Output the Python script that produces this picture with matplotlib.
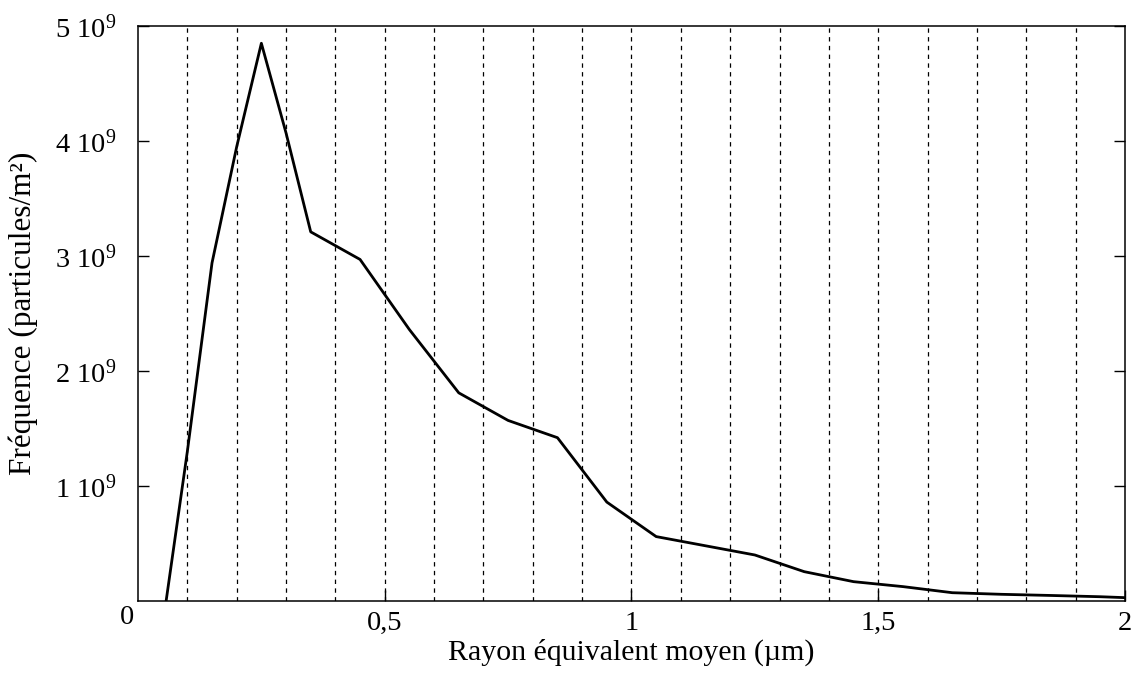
import matplotlib.pyplot as plt
from matplotlib.ticker import FixedLocator

plt.rcParams['font.family'] = ['Liberation Serif', 'DejaVu Serif']
plt.rcParams['mathtext.fontset'] = 'custom'
plt.rcParams['mathtext.rm'] = 'Liberation Serif'
plt.rcParams['mathtext.it'] = 'Liberation Serif:italic'

# Particle size distribution (mean equivalent radius in um, frequency per m2)
rayon = [0.057, 0.10, 0.15, 0.20, 0.25, 0.30, 0.35, 0.45, 0.55, 0.65, 0.75,
         0.85, 0.95, 1.05, 1.15, 1.25, 1.35, 1.45, 1.55, 1.65, 1.75, 1.85,
         1.95, 2.00]
frequence = [0.0, 1.30e9, 2.94e9, 3.95e9, 4.85e9, 4.07e9, 3.21e9, 2.97e9,
             2.36e9, 1.81e9, 1.57e9, 1.42e9, 0.86e9, 0.56e9, 0.48e9, 0.40e9,
             0.255e9, 0.168e9, 0.125e9, 0.072e9, 0.058e9, 0.048e9, 0.037e9,
             0.029e9]

grid_x = [round(0.1 * i, 1) for i in range(1, 20)]
xticks = [0.5, 1.0, 1.5, 2.0]
xtick_labels = ['0,5', '1', '1,5', '2']
yticks = [1e9, 2e9, 3e9, 4e9, 5e9]
ytick_labels = [r'%d $10^{9}$' % v for v in range(1, 6)]

fig = plt.figure(figsize=(11.32, 6.81), dpi=100)
ax = fig.add_axes([0.1219, 0.1175, 0.8719, 0.8443])

for gx in grid_x:
    ax.axvline(gx, color='black', linewidth=0.9, linestyle=(0, (3.5, 3.5)), zorder=1)

ax.plot(rayon, frequence, color='black', linewidth=2.0, zorder=3)

ax.set_xlim(0, 2)
ax.set_ylim(0, 5e9)

ax.set_xticks(xticks)
ax.set_xticklabels(xtick_labels)
ax.set_yticks(yticks)
ax.set_yticklabels(ytick_labels)
ax.tick_params(direction='in', length=8, width=1, labelsize=20.5,
               right=True, top=False)
ax.tick_params(axis='x', pad=7)
ax.tick_params(axis='y', pad=16)
ax.yaxis.set_minor_locator(FixedLocator([]))

for sp in ax.spines.values():
    sp.set_linewidth(1.1)

# shared origin label
ax.text(-0.022, -0.14e9, '0', ha='center', va='center', fontsize=20.5)

ax.set_xlabel('Rayon équivalent moyen (µm)', fontsize=21.5, labelpad=2)
ax.set_ylabel('Fréquence (particules/m²)', fontsize=22.5, labelpad=12)

fig.savefig('out.png', dpi=100)
